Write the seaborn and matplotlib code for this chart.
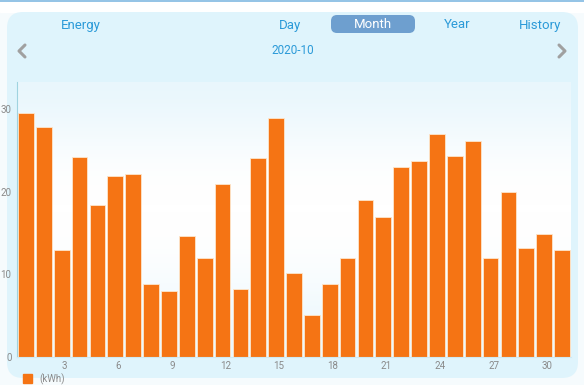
import matplotlib
matplotlib.use("Agg")
import matplotlib.pyplot as plt
import numpy as np
import pandas as pd
import seaborn as sns
from matplotlib.patches import FancyBboxPatch, Rectangle
from matplotlib.colors import LinearSegmentedColormap
from matplotlib.lines import Line2D
from matplotlib.transforms import ScaledTranslation

# daily energy for 2020-10 (kWh)
days = list(range(1, 32))
kwh = [29.6, 27.9, 12.9, 24.2, 18.4, 21.9, 22.1, 8.9, 8.0, 14.6,
       12.0, 20.9, 8.2, 24.1, 28.9, 10.2, 5.1, 8.9, 12.0, 19.0,
       17.0, 23.0, 23.7, 27.0, 24.3, 26.2, 12.0, 20.0, 13.2, 14.9, 12.9]
tabs = ["Day", "Month", "Year", "History"]
y_ticks = [0, 10, 20, 30]

df = pd.DataFrame({"day": days, "kwh": kwh})

sns.set_theme(style="white")
plt.rcParams['font.family'] = ['Roboto', 'DejaVu Sans']

W, H = 584, 385
fig = plt.figure(figsize=(W / 100, H / 100), dpi=100)
fig.set_facecolor('#f6fbfd')

blue_txt = '#2b9ad8'
orange = '#f57414'

# white strip at top with thin blue line
fig.patches.append(Rectangle((0, H - 12), W, 12, transform=None, color='white', zorder=-3))
fig.add_artist(Line2D([0, 1], [1 - 1 / H, 1 - 1 / H], transform=fig.transFigure,
                      color='#80b9e2', lw=1.2))

# rounded panel (pixel coords, origin bottom-left)
panel = FancyBboxPatch((7, H - 378), 571, 366, boxstyle="round,pad=0,rounding_size=16",
                       transform=None, facecolor='#dff4fc', edgecolor='none', zorder=-2)
fig.patches.append(panel)

# plot area
ax = fig.add_axes([17 / W, (H - 357) / H, 554 / W, (357 - 82) / H], zorder=1)
ax.set_facecolor('none')

grad = np.array([0.75, 0.45, 0.15, 0.0, 0.0, 0.05, 0.25, 0.5, 0.7])[:, None]
cmap = LinearSegmentedColormap.from_list('bg', ['#ffffff', '#e2f4fc'])
ax.imshow(grad, cmap=cmap, aspect='auto', extent=[0, 1, 0, 1], transform=ax.transAxes,
          interpolation='bicubic', zorder=0, vmin=0, vmax=1)

sns.barplot(data=df, x="day", y="kwh", color=orange, width=0.88, saturation=1,
            edgecolor='#fde6cc', linewidth=0.6, ax=ax, zorder=2)

ax.set_xlim(-0.5, 30.5)
ax.set_ylim(0, 33.3)
ax.set_yticks(y_ticks)
ax.set_yticklabels([str(t) for t in y_ticks])
ax.set_xticks([d - 1 for d in days if d % 3 == 0])
ax.set_xticklabels([str(d) for d in days if d % 3 == 0])
ax.tick_params(axis='both', length=0, labelsize=7, colors='#8a8a8a')
ax.tick_params(axis='y', pad=4)
ax.tick_params(axis='x', pad=3)
shift = ScaledTranslation(3 / 100, 0, fig.dpi_scale_trans)
for lab in ax.get_xticklabels():
    lab.set_transform(lab.get_transform() + shift)
ax.set_xlabel("")
ax.set_ylabel("")
for s in ['top', 'right']:
    ax.spines[s].set_visible(False)
ax.spines['left'].set_color('#9fd3e0')
ax.spines['left'].set_linewidth(0.8)
ax.spines['bottom'].set_color('#cfe9f2')
ax.spines['bottom'].set_linewidth(0.8)

# header
fig.text(81 / W, 1 - 25 / H, "Energy", color=blue_txt, fontsize=9.5, ha='center', va='center')
pill = FancyBboxPatch((331, H - 33), 84, 18, boxstyle="round,pad=0,rounding_size=6",
                      transform=None, facecolor='#6e9fcf', edgecolor='none', zorder=1)
fig.patches.append(pill)
tab_x = [290, 373, 457, 540]
for t, x in zip(tabs, tab_x):
    fig.text(x / W, 1 - 25 / H, t, color='white' if t == "Month" else blue_txt,
             fontsize=9.5, ha='center', va='center', zorder=3)
fig.text(293 / W, 1 - 51 / H, "2020-10", color=blue_txt, fontsize=8.5, ha='center', va='center')

# chevrons
for xs in ([25, 19, 25], [559, 565, 559]):
    fig.add_artist(Line2D([x / W for x in xs], [1 - 45 / H, 1 - 51 / H, 1 - 57 / H],
                          transform=fig.transFigure, color='#a0a0a0', lw=2.2,
                          solid_capstyle='round', solid_joinstyle='round'))

# legend
fig.patches.append(Rectangle((23, H - 383), 9, 9, transform=None, color=orange, zorder=3))
fig.text(39 / W, 1 - 379.5 / H, "(kWh)", color='#8a8a8a', fontsize=7, ha='left', va='center')

fig.savefig("out.png", dpi=100)
